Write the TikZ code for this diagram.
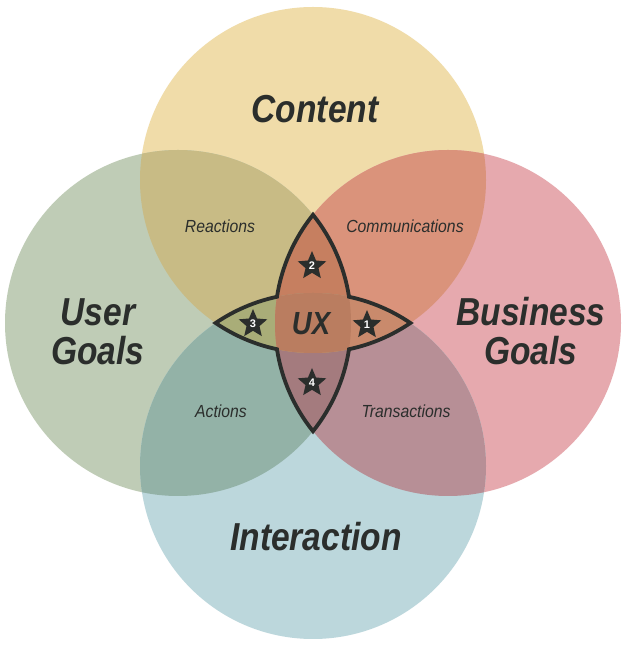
\documentclass[tikz,border=0pt]{standalone}
\usepackage{fontspec}
\setmainfont{Liberation Sans}
\newfontfamily\titlefont[FakeStretch=0.86]{Liberation Sans}
\newfontfamily\labelfont[FakeStretch=0.9]{Liberation Sans}
\usetikzlibrary{shapes.geometric}
\definecolor{cT}{HTML}{F0DCA9}
\definecolor{cL}{HTML}{BFCCB6}
\definecolor{cR}{HTML}{E6A9AE}
\definecolor{cB}{HTML}{BCD7DC}
\definecolor{cTL}{HTML}{C8BB85}
\definecolor{cTR}{HTML}{DA937B}
\definecolor{cBL}{HTML}{93B2A7}
\definecolor{cBR}{HTML}{B78F96}
\definecolor{cTLR}{HTML}{C67F60}
\definecolor{cBLR}{HTML}{A47B7E}
\definecolor{cTBL}{HTML}{A9AD78}
\definecolor{cTBR}{HTML}{C98A6C}
\definecolor{cQ}{HTML}{BA7D60}
\definecolor{ink}{HTML}{2B2E2C}
\tikzset{
  title/.style={font=\titlefont\bfseries\itshape\fontsize{39}{40}\selectfont, text=ink, anchor=base, inner sep=0pt},
  small/.style={font=\labelfont\itshape\fontsize{17.5}{19}\selectfont, text=ink, anchor=base, inner sep=0pt},
  starnode/.style={star, star points=5, star point ratio=2.2, minimum size=30pt, inner sep=0pt, fill=ink, text=white, font=\bfseries\fontsize{11}{11}\selectfont},
  outline/.style={draw=ink, line width=3.8pt, line join=miter}
}
\begin{document}
\begin{tikzpicture}[x=1pt,y=1pt]
\useasboundingbox (0,0) rectangle (640,653);
\fill[white] (0,0) rectangle (640,653);
\def\rr{173pt}
\coordinate (cT) at (313,473);
\coordinate (cB) at (313,187);
\coordinate (cL) at (178,330);
\coordinate (cR) at (448,330);
% base circles
\fill[cT] (cT) circle[radius=\rr];
\fill[cL] (cL) circle[radius=\rr];
\fill[cR] (cR) circle[radius=\rr];
\fill[cB] (cB) circle[radius=\rr];
% pairwise
\begin{scope}\clip (cT) circle[radius=\rr];
  \fill[cTL] (cL) circle[radius=\rr];
  \fill[cTR] (cR) circle[radius=\rr];
\end{scope}
\begin{scope}\clip (cB) circle[radius=\rr];
  \fill[cBL] (cL) circle[radius=\rr];
  \fill[cBR] (cR) circle[radius=\rr];
\end{scope}
% triples
\begin{scope}\clip (cL) circle[radius=\rr]; \clip (cR) circle[radius=\rr];
  \fill[cTLR] (cT) circle[radius=\rr];
  \fill[cBLR] (cB) circle[radius=\rr];
\end{scope}
\begin{scope}\clip (cT) circle[radius=\rr]; \clip (cB) circle[radius=\rr];
  \fill[cTBL] (cL) circle[radius=\rr];
  \fill[cTBR] (cR) circle[radius=\rr];
\end{scope}
\begin{scope}\clip (cT) circle[radius=\rr]; \clip (cB) circle[radius=\rr];
  \clip (cL) circle[radius=\rr];
  \fill[cQ] (cR) circle[radius=\rr];
\end{scope}
% outline of the UX star
\coordinate (Pt) at (313,438.19);
\draw[outline] (Pt)
  arc[start angle=38.71, end angle=8.71, radius=\rr]
  arc[start angle=77.99, end angle=55.75, radius=\rr]
  arc[start angle=-55.75, end angle=-77.99, radius=\rr]
  arc[start angle=-8.71, end angle=-38.71, radius=\rr]
  arc[start angle=218.71, end angle=188.71, radius=\rr]
  arc[start angle=-102.01, end angle=-124.25, radius=\rr]
  arc[start angle=124.25, end angle=102.01, radius=\rr]
  arc[start angle=171.29, end angle=141.29, radius=\rr]
  -- cycle;
% titles
\node[title] (content) at (315,530) {Content};
\node[title] (user) at (98,327) {User};
\node[title] (ugoals) at (98,288) {Goals};
\node[title] (business) at (531,327) {Business};
\node[title] (bgoals) at (531,288) {Goals};
\node[title] (interaction) at (316,102) {Interaction};
% small labels
\node[small] (reactions) at (220,420) {Reactions};
\node[small] (communications) at (405,420) {Communications};
\node[small] (actions) at (221,235) {Actions};
\node[small] (transactions) at (406,235) {Transactions};
% UX
\node[font=\titlefont\bfseries\itshape\fontsize{32}{32}\selectfont, text=ink, inner sep=0pt] (ux) at (311,329) {UX};
% stars
\node[starnode] (s2) at (312,387) {2};
\node[starnode] (s3) at (253,329) {3};
\node[starnode] (s1) at (367,328) {1};
\node[starnode] (s4) at (312,270) {4};
\end{tikzpicture}
\end{document}
